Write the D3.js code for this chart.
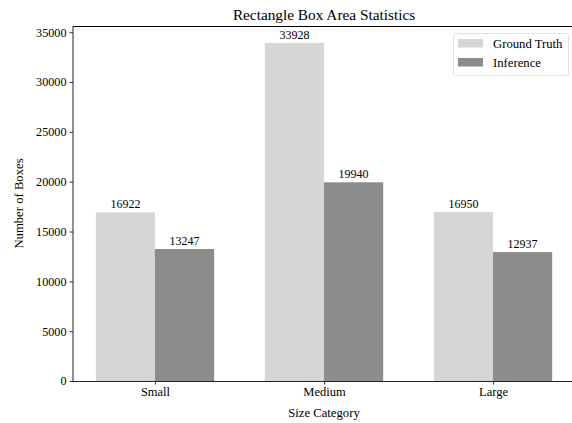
<!DOCTYPE html>
<html><head><meta charset="utf-8">
<script src="https://cdn.jsdelivr.net/npm/d3@7"></script>
<style>body{margin:0;background:#fff}svg text{font-family:"Liberation Serif","Times New Roman",serif !important}</style>
</head><body><svg id="c" width="572" height="423"></svg>
<script>
const categories = ["Small", "Medium", "Large"];
const groundTruth = [16922, 33928, 16950];
const inference = [13247, 19940, 12937];
const seriesNames = ["Ground Truth", "Inference"];
const yTicks = [0, 5000, 10000, 15000, 20000, 25000, 30000, 35000];

const colors = ["#d6d6d6", "#8c8c8c"];
const svg = d3.select("#c");
const L = 73, R = 575, T = 26, B = 381;
const bw = 0.35;
const x = d3.scaleLinear().domain([-0.485, 2.485]).range([L, R]);
const ymax = d3.max(groundTruth.concat(inference)) * 1.05;
const y = d3.scaleLinear().domain([0, ymax]).range([B, T]);

const series = [groundTruth, inference];
series.forEach((vals, s) => {
  const off = s === 0 ? -bw : 0;
  svg.append("g").selectAll("rect").data(vals).join("rect")
    .attr("x", (d, i) => x(i + off))
    .attr("width", x(bw) - x(0))
    .attr("y", d => y(d))
    .attr("height", d => B - y(d))
    .attr("fill", colors[s]);
  svg.append("g").selectAll("text").data(vals).join("text")
    .attr("x", (d, i) => x(i + off + bw / 2))
    .attr("y", d => y(d) - 4)
    .attr("text-anchor", "middle")
    .attr("font-size", 12)
    .text(d => d);
});

const yAxis = d3.axisLeft(y).tickValues(yTicks).tickSize(3.5).tickPadding(3).tickFormat(d3.format("d"));
const gy = svg.append("g").attr("transform", `translate(${L},0)`).call(yAxis);
gy.select(".domain").remove();
gy.selectAll("text").attr("font-size", 12.2).attr("fill", "#000");
gy.selectAll("line").attr("stroke", "#333");

const xAxis = d3.axisBottom(x).tickValues([0, 1, 2]).tickSize(3.5).tickPadding(3).tickFormat(i => categories[i]);
const gx = svg.append("g").attr("transform", `translate(0,${B})`).call(xAxis);
gx.select(".domain").remove();
gx.selectAll("text").attr("font-size", 12.5).attr("fill", "#000");
gx.selectAll("line").attr("stroke", "#333");

// spines
svg.append("line").attr("x1", L).attr("x2", R).attr("y1", B + 0.5).attr("y2", B + 0.5).attr("stroke", "#222");
svg.append("line").attr("x1", L).attr("x2", R).attr("y1", T + 0.5).attr("y2", T + 0.5).attr("stroke", "#000");
svg.append("line").attr("x1", L).attr("x2", L).attr("y1", T).attr("y2", B + 1).attr("stroke", "#222");
svg.append("line").attr("x1", R - 0.5).attr("x2", R - 0.5).attr("y1", T).attr("y2", B + 1).attr("stroke", "#000");

svg.append("text").attr("x", (L + R) / 2).attr("y", 20).attr("text-anchor", "middle").attr("font-size", 15.3).text("Rectangle Box Area Statistics");
svg.append("text").attr("x", (L + R) / 2).attr("y", 417).attr("text-anchor", "middle").attr("font-size", 12.7).text("Size Category");
svg.append("text").attr("transform", `translate(23,${(T + B) / 2}) rotate(-90)`).attr("text-anchor", "middle").attr("font-size", 12.7).text("Number of Boxes");

// legend
const lg = svg.append("g").attr("transform", "translate(453,33)");
lg.append("rect").attr("x", 0.5).attr("y", 0.5).attr("width", 115).attr("height", 42).attr("rx", 2).attr("fill", "#fff").attr("fill-opacity", 0.8).attr("stroke", "#e0e0e0");
seriesNames.forEach((n, i) => {
  lg.append("rect").attr("x", 5).attr("y", 6 + i * 19).attr("width", 25).attr("height", 8.5).attr("fill", colors[i]);
  lg.append("text").attr("x", 40).attr("y", 14.5 + i * 19).attr("font-size", 12.7).text(n);
});
</script></body></html>
